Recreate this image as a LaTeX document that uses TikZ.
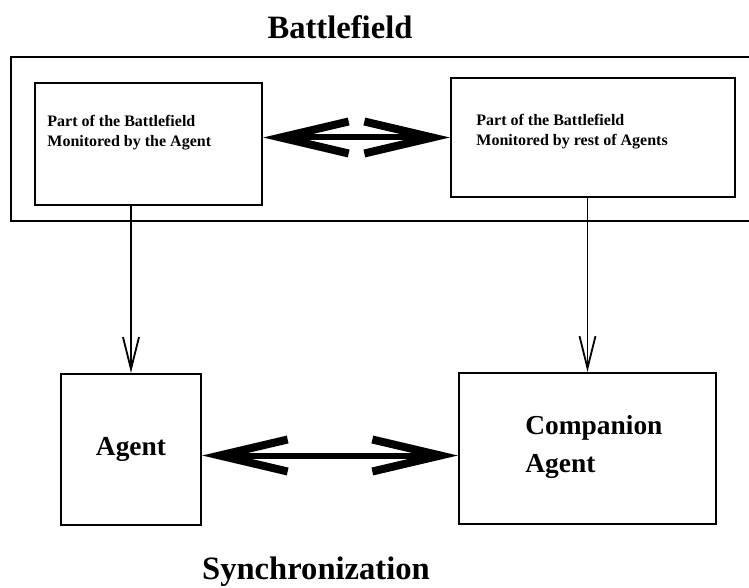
\documentclass[tikz,border=0pt]{standalone}
\usepackage{fontspec}
\setmainfont{Liberation Serif}
\usepackage{tikz}
\usetikzlibrary{calc,arrows.meta}

\begin{document}
\begin{tikzpicture}[x=0.5pt,y=-0.5pt,
	box/.style={draw,line width=1.2pt,inner sep=0pt},
	parttext/.style={font=\bfseries\fontsize{8}{10}\selectfont,align=left,anchor=west,inner sep=0pt},
	agenttext/.style={font=\bfseries\fontsize{13.7}{19}\selectfont,align=left,inner sep=0pt},
	title/.style={font=\bfseries\fontsize{16.3}{18}\selectfont},
	feed/.style={line width=0.9pt,-{Straight Barb[length=16pt,width=8pt]}},
	sync/.style={line width=3pt,{Straight Barb[length=34pt,width=16pt,line width=4pt]}-{Straight Barb[length=34pt,width=16pt,line width=4pt]}}]
	\useasboundingbox (0,0) rectangle (749,588);

	\node[title] (battlefield) at (340,27) {Battlefield};
	\draw[line width=1.3pt] (755,57)--(11,57)--(11,221)--(755,221);

	\node[box,minimum width=113.5pt,minimum height=61pt] (partagent) at (148.5,144) {};
	\node[box,minimum width=142pt,minimum height=59.5pt] (partrest) at (593,137.5) {};
	\node[parttext] at (47,133) {Part of the Battlefield\\Monitored by the Agent};
	\node[parttext] at (476,132) {Part of the Battlefield\\Monitored by rest of Agents};

	\node[box,minimum width=70pt,minimum height=75.5pt,agenttext] (agent) at (131,449.5) {Agent};
	\node[box,minimum width=128.5pt,minimum height=75.5pt] (companion) at (587.5,448.5) {};
	\node[agenttext,anchor=west] at (525,447) {Companion\\Agent};

	\draw[feed] (agent.north |- partagent.south) -- (agent.north);
	\draw[feed] (companion.north |- partrest.south) -- (companion.north);
	\draw[sync] (partagent.east |- partrest.west) -- (partrest.west);
	\draw[sync] ([yshift=-3pt]agent.east) -- ([yshift=-3pt]agent.east -| companion.west);

	\node[title] (sync) at (316,572) {Synchronization};
\end{tikzpicture}
\end{document}
